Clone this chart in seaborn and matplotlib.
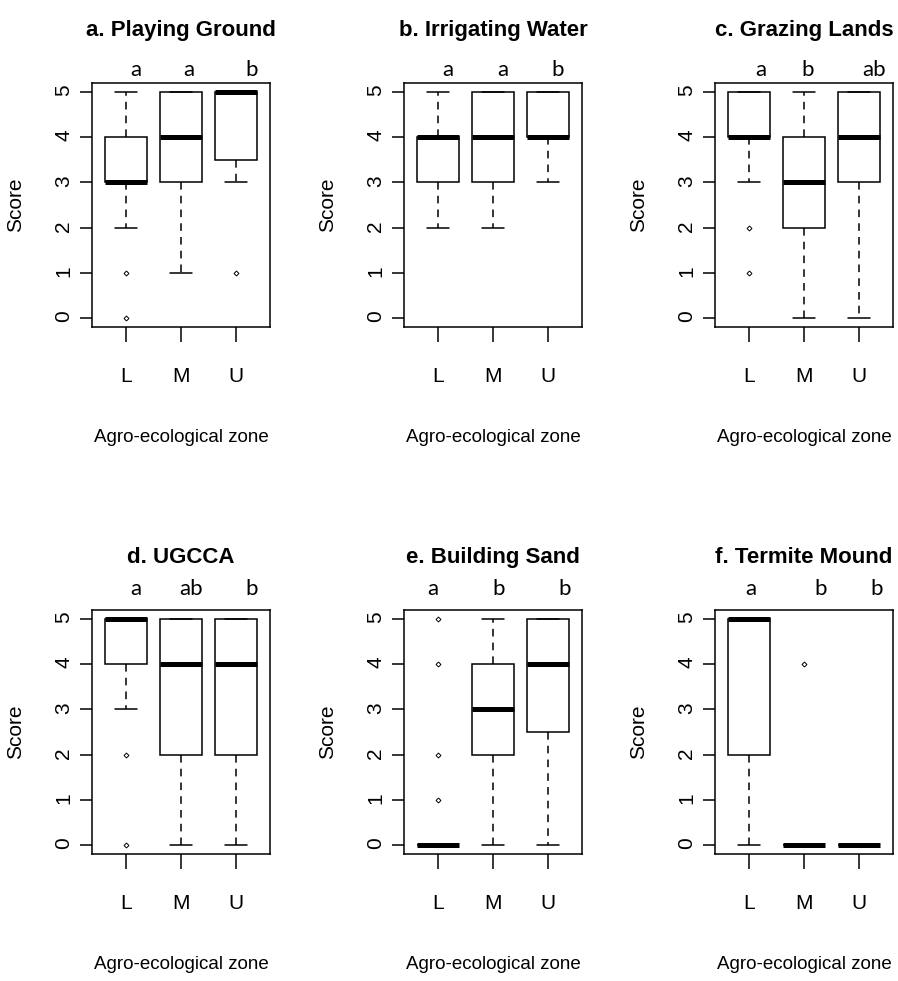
import matplotlib
matplotlib.use("Agg")
import matplotlib.pyplot as plt
import pandas as pd
import seaborn as sns

zones = ["L", "M", "U"]
scores = [0, 1, 2, 3, 4, 5]

titles = ["a. Playing Ground", "b. Irrigating Water", "c. Grazing Lands",
          "d. UGCCA", "e. Building Sand", "f. Termite Mound"]

# number of respondents giving each score (0..5), per zone
playing_ground = {"L": [1, 1, 1, 8, 6, 4], "M": [0, 1, 1, 5, 6, 8], "U": [0, 1, 0, 5, 5, 12]}
irrigating_water = {"L": [0, 0, 1, 5, 10, 5], "M": [0, 0, 1, 5, 7, 8], "U": [0, 0, 0, 2, 11, 8]}
grazing_lands = {"L": [0, 1, 1, 2, 11, 6], "M": [2, 2, 4, 5, 5, 3], "U": [1, 1, 1, 5, 5, 8]}
ugcca = {"L": [1, 0, 1, 2, 6, 11], "M": [2, 2, 4, 2, 3, 8], "U": [3, 1, 5, 1, 4, 7]}
building_sand = {"L": [17, 1, 1, 0, 1, 1], "M": [1, 2, 5, 5, 4, 4], "U": [2, 1, 3, 3, 7, 7]}
termite_mound = {"L": [2, 1, 3, 1, 2, 12], "M": [20, 0, 0, 0, 1, 0], "U": [21, 0, 0, 0, 0, 0]}

panels = [playing_ground, irrigating_water, grazing_lands, ugcca, building_sand, termite_mound]

# significance letters above each zone
letters = [["a", "a", "b"], ["a", "a", "b"], ["a", "b", "ab"],
           ["a", "ab", "b"], ["a", "b", "b"], ["a", "b", "b"]]

# layout (pixels of the 898x981 figure)
W, H = 898, 981
lefts = [92, 404, 715]
tops = [83, 610]
aw, ah = 178, 244
letter_dx = [[0.18, 0.15, 0.29], [0.17, 0.18, 0.18], [0.22, 0.07, 0.28],
             [0.18, 0.18, 0.29], [-0.09, 0.11, 0.31], [0.04, 0.31, 0.33]]

sns.set_style("ticks")
plt.rcParams["font.family"] = ["Liberation Sans Narrow", "Liberation Sans", "DejaVu Sans"]
plt.rcParams.update({"text.color": "black", "axes.labelcolor": "black",
                     "xtick.color": "black", "ytick.color": "black"})

fig = plt.figure(figsize=(W / 100, H / 100), dpi=100)

for k, (title, counts) in enumerate(zip(titles, panels)):
    r, c = divmod(k, 3)
    ax = fig.add_axes([lefts[c] / W, 1 - (tops[r] + ah) / H, aw / W, ah / H])

    rows = [(z, s) for z in zones for s, n in zip(scores, counts[z]) for _ in range(n)]
    df = pd.DataFrame(rows, columns=["zone", "score"])

    sns.boxplot(data=df, x="zone", y="score", order=zones, ax=ax,
                color="white", linecolor="black", linewidth=1.1, width=0.78,
                saturation=1, whis=1.5, fliersize=2.5,
                medianprops=dict(linewidth=3.6, solid_capstyle="butt"),
                whiskerprops=dict(linestyle=(0, (5, 4))),
                flierprops=dict(marker="D", markerfacecolor="none",
                                markeredgecolor="black", markeredgewidth=0.7))

    ax.set_xlim(-0.62, 2.62)
    ax.set_ylim(-0.2, 5.2)
    ax.set_yticks(scores)
    for sp in ax.spines.values():
        sp.set_visible(True)
        sp.set_color("black")
        sp.set_linewidth(1.1)
    ax.tick_params(axis="x", direction="out", length=11, width=1.1, pad=18,
                   labelsize=15)
    ax.tick_params(axis="y", direction="out", length=8.5, width=1.1, pad=5,
                   labelsize=15, labelrotation=90)

    ax.set_xlabel("Agro-ecological zone", fontsize=13.5)
    ax.set_ylabel("Score", fontsize=15)
    ax.xaxis.set_label_coords(0.5, -0.42)
    ax.yaxis.set_label_coords(-0.376, 0.5)

    ax.text(0.5, 1.215, title, transform=ax.transAxes, ha="center", va="center",
            fontsize=16, fontweight="bold")

    ybase = 1.029 if r == 0 else 1.062
    for i, lab in enumerate(letters[k]):
        ax.text(i + letter_dx[k][i], ybase, lab, transform=ax.get_xaxis_transform(),
                ha="center", va="baseline", fontsize=16, family=["Lato", "DejaVu Sans"])

fig.savefig("out.png", dpi=100)
